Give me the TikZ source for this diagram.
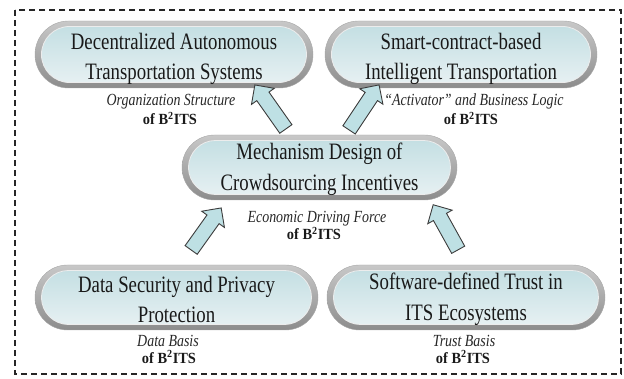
\documentclass[tikz,border=0pt]{standalone}
\usepackage{fontspec}
\setmainfont{Liberation Serif}
\newfontfamily\pillfont[FakeStretch=0.8]{Liberation Serif}
\newfontfamily\labfont[FakeStretch=0.82]{Liberation Serif}
\newfontfamily\labbfont[FakeStretch=0.93]{Liberation Serif}
\usetikzlibrary{shapes.misc,shapes.arrows,calc,shadings}
\definecolor{rimtop}{HTML}{C8C8C8}
\definecolor{rimbot}{HTML}{8C8C8C}
\definecolor{pilltop}{HTML}{C4DFE3}
\definecolor{pillbot}{HTML}{E6F0F2}
\definecolor{arrowfill}{HTML}{BEE0E4}
\definecolor{arrowline}{HTML}{3C3C3C}
\newcommand\blockarrow[3]{%
  \path let \p1=($(#3)-(#2)$), \n1={atan2(\y1,\x1)}, \n2={veclen(\x1,\y1)} in
    node[barrow, minimum height=\n2, rotate=\n1] (#1) at ($(#2)!0.5!(#3)$) {};}
\begin{document}
\begin{tikzpicture}[x=1pt,y=-1pt,
  rim/.style={rounded rectangle, inner sep=0pt, top color=rimtop, bottom color=rimbot, draw=gray!70},
  core/.style={rounded rectangle, inner sep=0pt, top color=pilltop, bottom color=pillbot, draw=white!85!gray, line width=0.8pt},
  maintext/.style={align=center, inner sep=0pt, font=\pillfont\fontsize{23.5}{30.5}\selectfont, text=black!90},
  lab/.style={anchor=base, font=\labfont\fontsize{17}{19}\selectfont\itshape, text=black!85, inner sep=0pt},
  labb/.style={anchor=base, font=\labbfont\fontsize{15.5}{18}\selectfont\bfseries, text=black!90, inner sep=0pt},
  barrow/.style={single arrow, draw=arrowline, fill=arrowfill, line width=0.9pt, inner xsep=0pt, inner ysep=7pt, single arrow head extend=6.5pt, single arrow tip angle=90, anchor=center},
  frame/.style={draw=black!85, line width=1.3pt, dash pattern=on 6pt off 4pt}
]
\useasboundingbox (0,0) rectangle (624,379);
\draw[frame] (15,10) rectangle (621,374);

% pills
\node[rim, minimum width=278pt, minimum height=67pt] (P1) at (174,54.5) {};
\node[core, minimum width=265pt, minimum height=56pt] (C1) at (P1) {};
\node[maintext] (T1) at ($(P1)+(0,4.5)$) {Decentralized Autonomous\\Transportation Systems};

\node[rim, minimum width=272pt, minimum height=67pt] (P2) at (461,54.5) {};
\node[core, minimum width=259pt, minimum height=56pt] (C2) at (P2) {};
\node[maintext] (T2) at ($(P2)+(0,4.5)$) {Smart-contract-based\\Intelligent Transportation};

\node[rim, minimum width=275pt, minimum height=65pt] (P3) at (319.5,167.5) {};
\node[core, minimum width=262pt, minimum height=54pt] (C3) at (P3) {};
\node[maintext] (T3) at ($(P3)+(0,2)$) {Mechanism Design of\\Crowdsourcing Incentives};

\node[rim, minimum width=283pt, minimum height=65pt] (P4) at (176.5,297.5) {};
\node[core, minimum width=270pt, minimum height=54pt] (C4) at (P4) {};
\node[maintext] (T4) at ($(P4)+(0,2)$) {Data Security and Privacy\\Protection};

\node[rim, minimum width=278pt, minimum height=65pt] (P5) at (466,297.5) {};
\node[core, minimum width=265pt, minimum height=54pt] (C5) at (P5) {};
\node[maintext] (T5) at ($(P5)+(0,2)$) {Software-defined Trust in\\ITS Ecosystems};

% labels
\node[lab] (L1a) at (171,106) {Organization Structure};
\node[labb] (L1b) at (170,125) {of B\textsuperscript{2}ITS};
\node[lab] (L2a) at (474,106) {“Activator” and Business Logic};
\node[labb] (L2b) at (471,125) {of B\textsuperscript{2}ITS};
\node[lab] (L3a) at (317,223) {Economic Driving Force};
\node[labb] (L3b) at (314,240) {of B\textsuperscript{2}ITS};
\node[lab] (L4a) at (168,347) {Data Basis};
\node[labb] (L4b) at (169,363) {of B\textsuperscript{2}ITS};
\node[lab] (L5a) at (464,347) {Trust Basis};
\node[labb] (L5b) at (463,363) {of B\textsuperscript{2}ITS};

% arrow end points
\coordinate (a1s) at (288,132);
\coordinate (a1e) at (257,88);
\coordinate (a2s) at (347,133);
\coordinate (a2e) at (377,88);
\coordinate (a3s) at (189,253);
\coordinate (a3e) at (219,211);
\coordinate (a4s) at (460,253);
\coordinate (a4e) at (435,208);
\blockarrow{A1}{a1s}{a1e}
\blockarrow{A2}{a2s}{a2e}
\blockarrow{A3}{a3s}{a3e}
\blockarrow{A4}{a4s}{a4e}
\end{tikzpicture}
\end{document}
